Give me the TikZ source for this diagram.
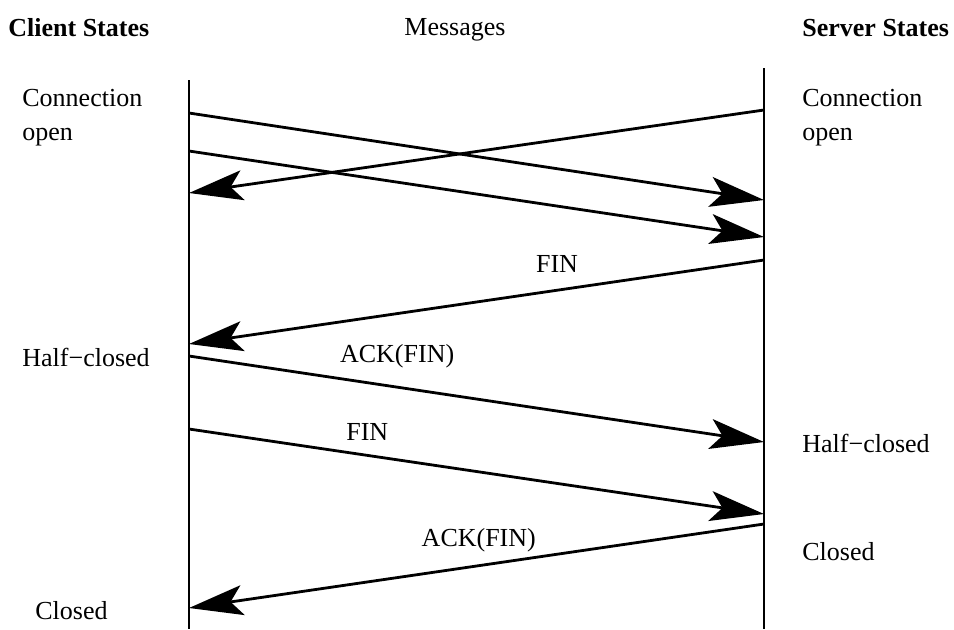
\documentclass[tikz,border=0pt]{standalone}
\usepackage{fontspec}
\setmainfont{Liberation Serif}
\usetikzlibrary{arrows.meta}

\begin{document}
\begin{tikzpicture}[x=0.5pt, y=-0.5pt, inner sep=0pt,
    every node/.style={font=\fontsize{13}{17}\selectfont},
    timeline/.style={line width=1.1pt},
    msg/.style={-{Stealth[length=27pt, width=15pt, inset=6pt]}, line width=1.4pt},
    state/.style={anchor=base west, align=left},
    label/.style={inner sep=3.33pt}]
    \useasboundingbox (0,0) rectangle (954,629);

    % column headings
    \node[anchor=base west, font=\fontsize{13}{17}\selectfont\bfseries] (client) at (8,36) {Client States};
    \node[anchor=base] (messages) at (455,35) {Messages};
    \node[anchor=base west, font=\fontsize{13}{17}\selectfont\bfseries] (server) at (802,36) {Server States};

    % time lines
    \coordinate (ctop) at (189,80);
    \coordinate (cbot) at (189,629);
    \coordinate (stop) at (764,68);
    \coordinate (sbot) at (764,629);
    \draw[timeline] (ctop) -- (cbot);
    \draw[timeline] (stop) -- (sbot);

    % states
    \node[state] (copen) at (22,140) {Connection\\open};
    \node[state] (sopen) at (802,140) {Connection\\open};
    \node[state] (chalf) at (22,366) {Half−closed};
    \node[state] (shalf) at (802,452) {Half−closed};
    \node[state] (sclosed) at (802,560) {Closed};
    \node[state] (cclosed) at (35,619) {Closed};

    % message end points
    \coordinate (c0) at (189,193);
    \coordinate (c1) at (189,113);
    \coordinate (c2) at (189,151);
    \coordinate (c3) at (189,344);
    \coordinate (c4) at (189,356);
    \coordinate (c5) at (189,429);
    \coordinate (c6) at (189,608);
    \coordinate (s0) at (764,110);
    \coordinate (s1) at (764,200);
    \coordinate (s2) at (764,237);
    \coordinate (s3) at (764,260);
    \coordinate (s4) at (764,442);
    \coordinate (s5) at (764,514);
    \coordinate (s6) at (764,524);

    % messages
    \draw[msg] (s0) -- (c0);
    \draw[msg] (c1) -- (s1);
    \draw[msg] (c2) -- (s2);
    \draw[msg] (s3) -- node[label, pos=0.36, above=4.7pt] (fin1) {FIN} (c3);
    \draw[msg] (c4) -- node[label, pos=0.362, above=5.3pt] (ack1) {ACK(FIN)} (s4);
    \draw[msg] (c5) -- node[label, pos=0.31, above=3.2pt] (fin2) {FIN} (s5);
    \draw[msg] (s6) -- node[label, pos=0.496, above=2.6pt] (ack2) {ACK(FIN)} (c6);
\end{tikzpicture}
\end{document}
